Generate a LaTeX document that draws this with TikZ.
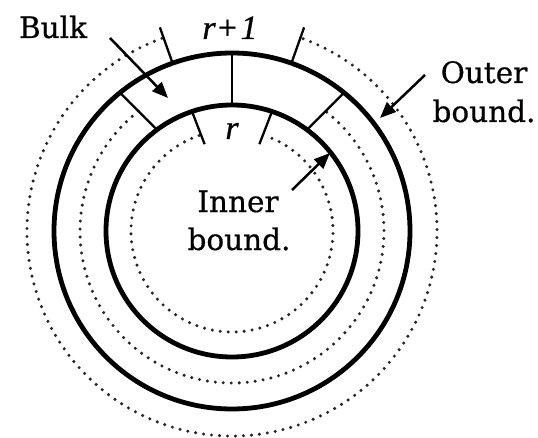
\documentclass[tikz,border=0pt]{standalone}
\usepackage{fontspec}
\setmainfont{DejaVu Serif}[FakeBold=0.6]
\newfontfamily\timesfont{Liberation Serif}[FakeBold=0.8]
\usetikzlibrary{arrows.meta,calc}
\begin{document}
\begin{tikzpicture}[x=1pt,y=1pt,
  solidring/.style={line width=4.8pt},
  dotring/.style={line width=3.4pt, black!85, line cap=round, dash pattern=on 0pt off 8pt},
  divider/.style={line width=2.3pt},
  pointer/.style={line width=2.5pt, -{Triangle[length=16pt,width=13pt]}},
  label/.style={font=\fontsize{29.5}{32}\selectfont, inner sep=0pt, anchor=base},
  mathlabel/.style={font=\fontsize{34}{36}\selectfont\timesfont\itshape, inner sep=0pt, anchor=base}]
\useasboundingbox (0,0) rectangle (538,437);
\coordinate (C) at (232,206);
% dotted rings
\draw[dotring] (C) ++(110:205) arc[start angle=110, end angle=430, radius=205];
\draw[dotring] (C) ++(128:152) arc[start angle=128, end angle=412, radius=152];
\draw[dotring] (C) ++(109:101) arc[start angle=109, end angle=431, radius=101];
% solid rings
\draw[solidring] (C) circle[radius=178];
\draw[solidring] (C) circle[radius=126];
% radial lines in bulk
\draw[divider] ($(C)+(90:126)$) -- ($(C)+(90:178)$);
\draw[divider] ($(C)+(126.5:126)$) -- ($(C)+(129:178)$);
\draw[divider] ($(C)+(53.5:126)$) -- ($(C)+(51:178)$);
% ticks
\draw[divider] ($(C)+(109.5:178)$) -- ($(C)+(109.5:216)$);
\draw[divider] ($(C)+(70.5:178)$) -- ($(C)+(70.5:216)$);
\draw[divider] ($(C)+(108.5:126)$) -- ($(C)+(107.5:91)$);
\draw[divider] ($(C)+(71.5:126)$) -- ($(C)+(72.5:91)$);
% labels
\node[mathlabel] (rl) at (230,398) {r+\hspace{2pt}1};
\node[mathlabel] (r) at (232,298) {r};
\node[label] (bulk) at (53,399) {Bulk};
\node[label] (outer1) at (484,354) {Outer};
\node[label] (outer2) at (484,315) {bound.};
\node[label] (inner1) at (238,225) {Inner};
\node[label] (inner2) at (239,187) {bound.};
% arrows
\coordinate (bulkS) at (110,399);
\coordinate (bulkE) at (168,339);
\coordinate (outerS) at (425,362);
\coordinate (outerE) at (380,319);
\coordinate (innerS) at (292,247);
\coordinate (innerE) at (330,284);
\draw[pointer] (bulkS) -- (bulkE);
\draw[pointer] (outerS) -- (outerE);
\draw[pointer] (innerS) -- (innerE);
\end{tikzpicture}
\end{document}
